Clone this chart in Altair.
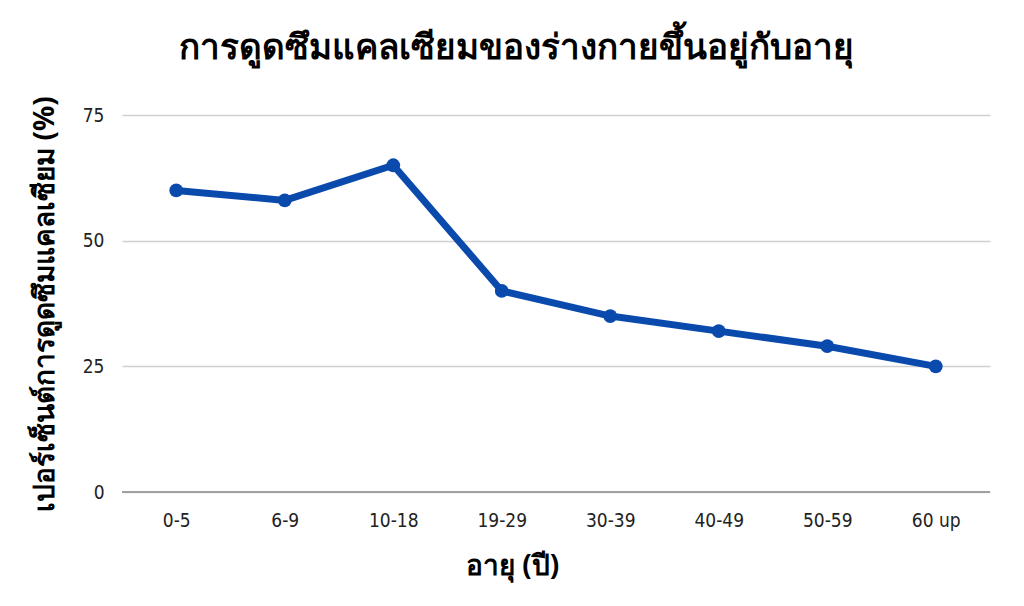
import altair as alt
import pandas as pd

ages = ["0-5", "6-9", "10-18", "19-29", "30-39", "40-49", "50-59", "60 up"]
absorption = [60, 58, 65, 40, 35, 32, 29, 25]

df = pd.DataFrame({"age": ages, "pct": absorption})

FONT = "Noto Sans"
TICKFONT = "DejaVu Sans Condensed, Roboto, sans-serif"
COLOR = "#0a4aad"

base = alt.Chart(df).encode(
    x=alt.X("age:N", sort=ages, scale=alt.Scale(type="point", padding=0.5),
            axis=alt.Axis(title="อายุ (ปี)", labelAngle=0, labelFont=TICKFONT,
                          labelFontSize=19, labelColor="#222", labelPadding=19,
                          ticks=False, domain=False, grid=False,
                          titleFont=FONT, titleFontSize=28, titleFontWeight="bold",
                          titleColor="#000", titlePadding=22, titleX=390)),
    y=alt.Y("pct:Q", scale=alt.Scale(domain=[0, 75], nice=False),
            axis=alt.Axis(title="เปอร์เซ็นต์การดูดซึมแคลเซียม (%)", values=[0, 25, 50, 75],
                          labelFont=TICKFONT, labelFontSize=19, labelColor="#222",
                          labelPadding=18, ticks=False, domain=False,
                          gridColor="#d0d0d0", gridWidth=1.5,
                          titleFont=FONT, titleFontSize=28, titleFontWeight="bold",
                          titleColor="#000", titlePadding=23)),
)

zero = alt.Chart(pd.DataFrame({"z": [0]})).mark_rule(color="#a0a0a0", strokeWidth=2).encode(y="z:Q")

line = base.mark_line(color=COLOR, strokeWidth=7)
pts = base.mark_circle(color=COLOR, size=190, opacity=1)

chart = alt.layer(line, zero, pts).properties(
    width=868, height=377,
    background="white",
    title=alt.TitleParams("การดูดซึมแคลเซียมของร่างกายขึ้นอยู่กับอายุ", font=FONT,
                          fontSize=35, fontWeight="bold", color="#000",
                          anchor="middle", dx=-40, offset=30),
    autosize=alt.AutoSizeParams(type="none"),
    padding={"left": 114, "top": 107, "right": 18, "bottom": 106},
).configure_view(stroke="transparent", strokeWidth=0)

chart.save("out.html", embed_options={"renderer": "svg", "actions": False})
